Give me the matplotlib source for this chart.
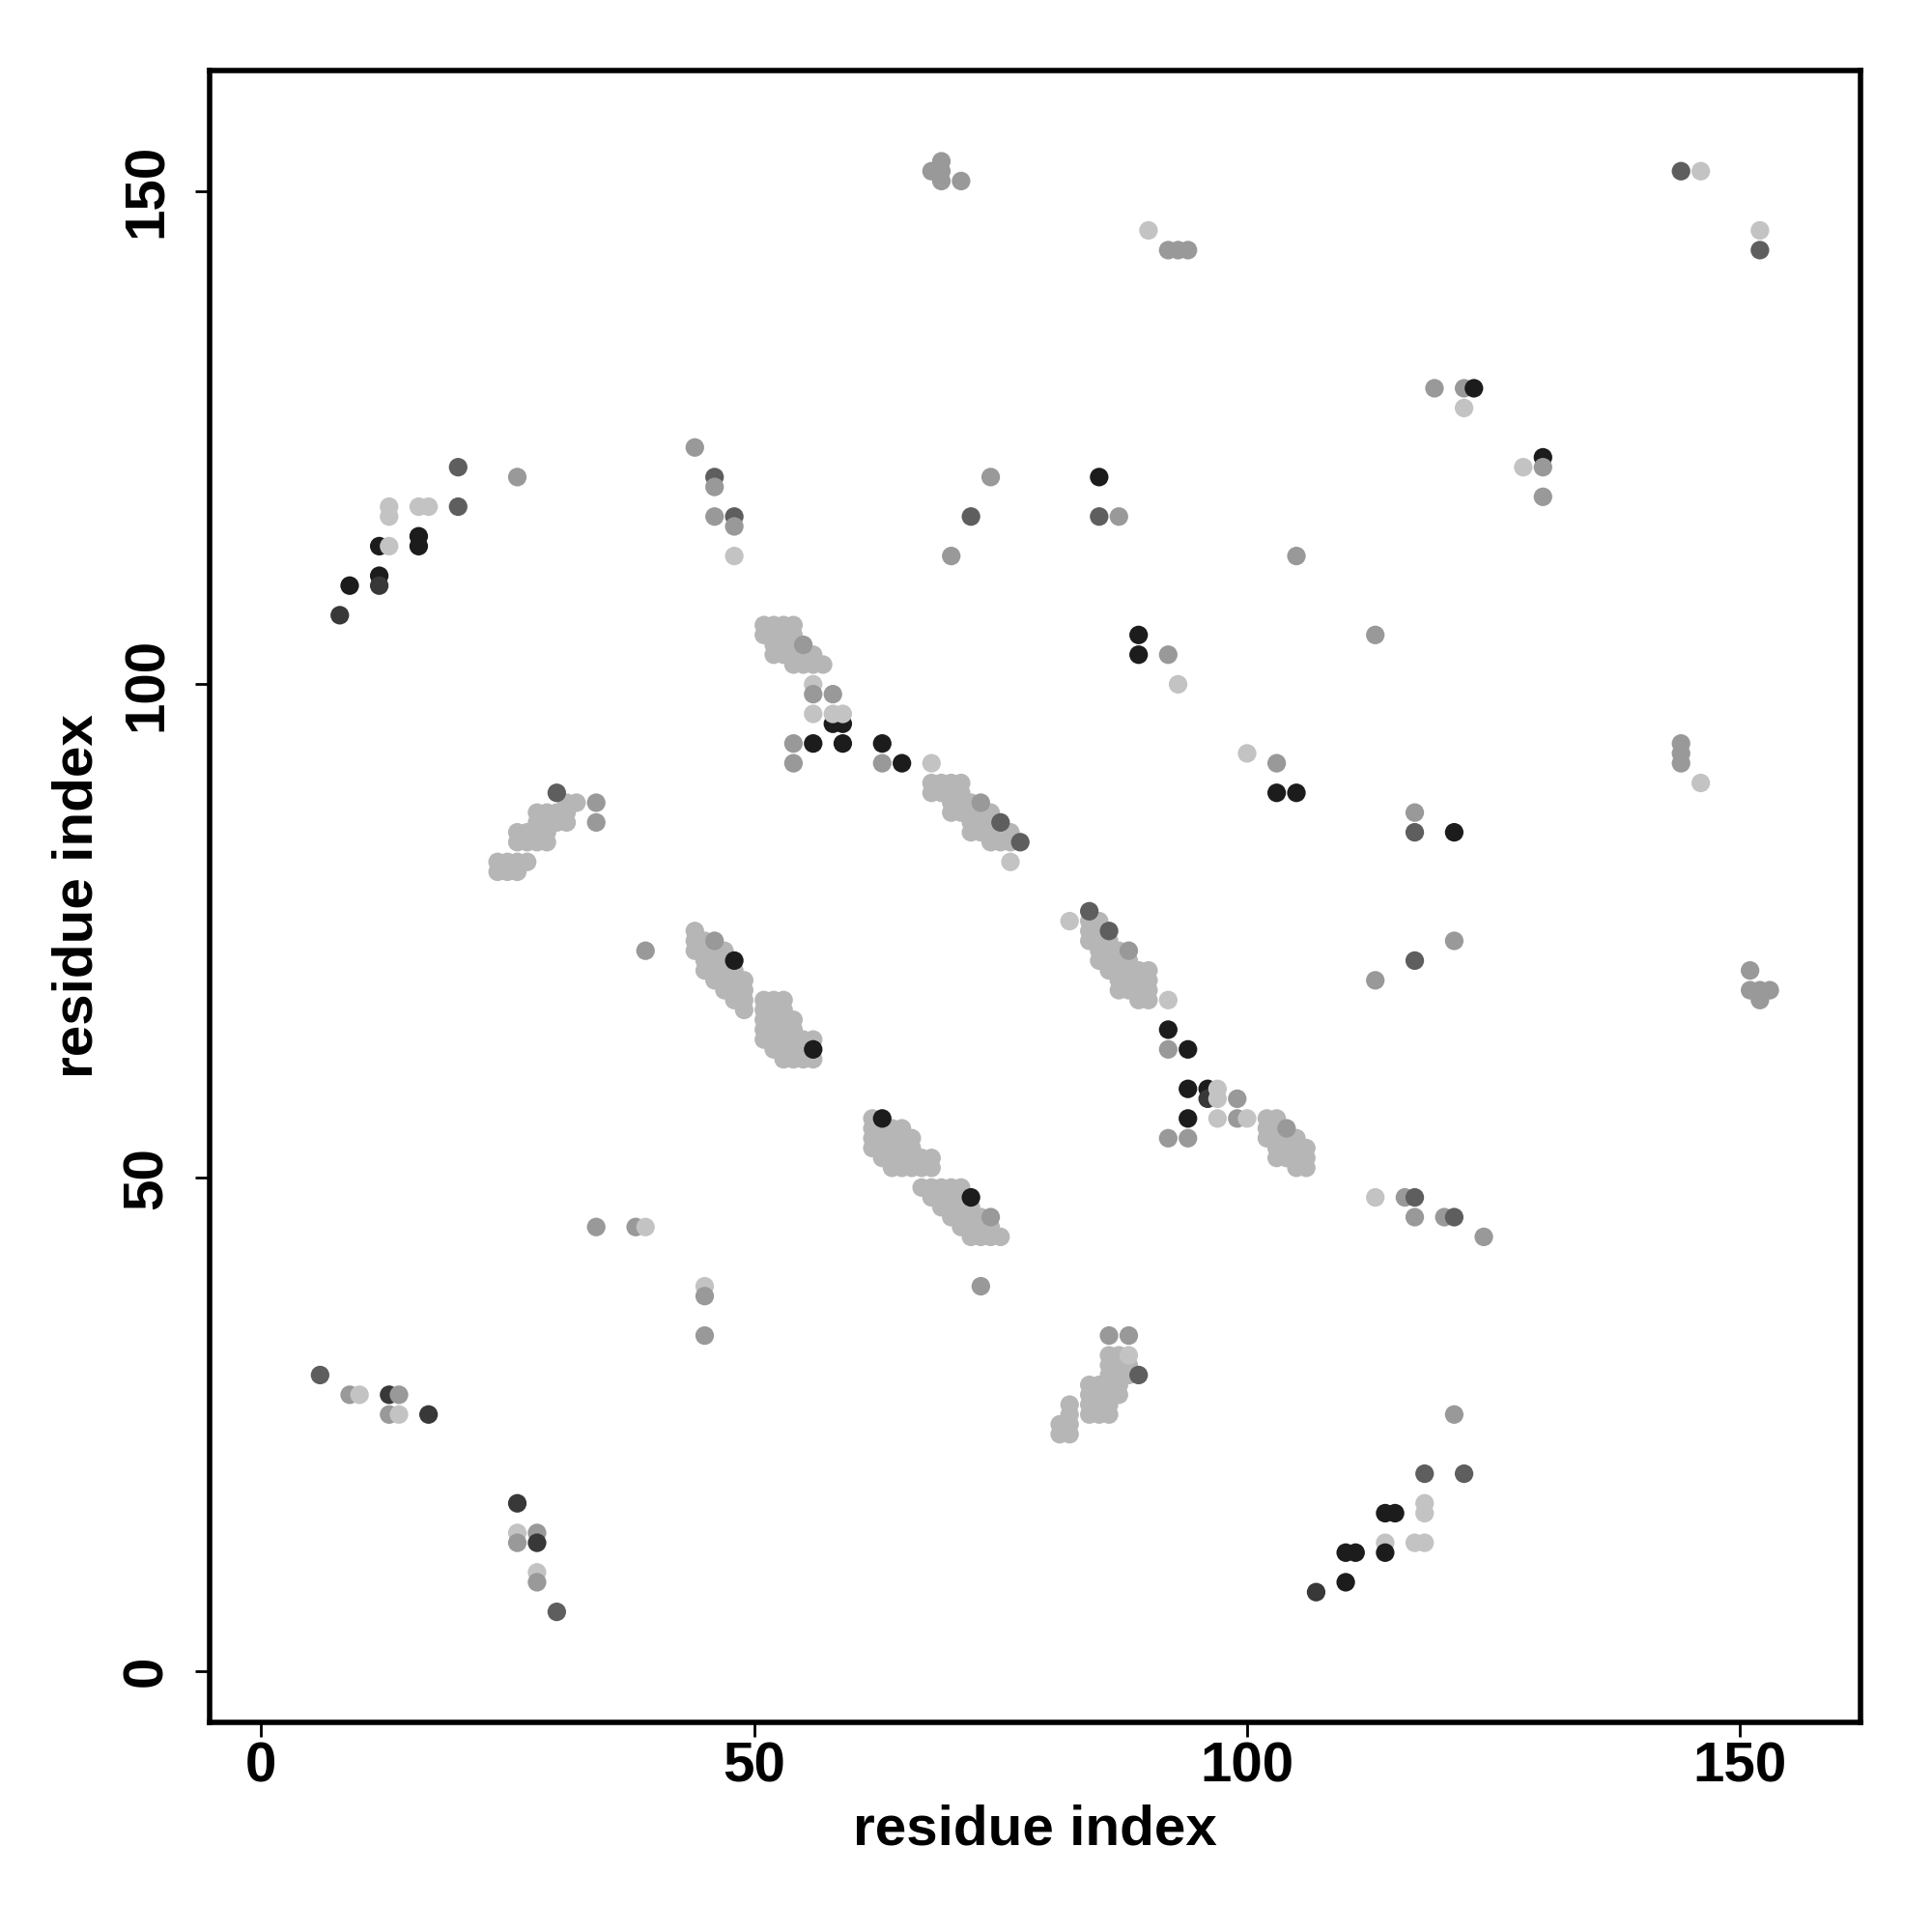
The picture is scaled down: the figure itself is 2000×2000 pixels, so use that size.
import matplotlib
matplotlib.use("Agg")
import matplotlib.pyplot as plt

plt.rcParams["font.family"] = ["Liberation Sans", "DejaVu Sans"]
plt.rcParams["font.weight"] = "bold"

# dense contact bands (light grey): one entry per row, y value + x values in that row
band_row_y = [
    88, 87, 86, 85, 84, 82, 81,                              # near (28, 85)
    106, 105, 104, 103, 102,                                 # near (54, 104)
    90, 89, 88, 87, 86, 85, 84,                              # near (72, 87)
    75, 74, 73, 72, 71, 70, 69, 68, 67, 66, 65, 64, 63, 62,  # near (50, 68)
    56, 55, 54, 53, 52, 51, 49, 48, 47, 46, 45, 44,          # near (68, 50)
    76, 75, 74, 73, 72, 71, 70, 69, 68,                      # near (87, 72)
    56, 55, 54, 53, 52, 51,                                  # near (104, 54)
    32, 31, 30, 29, 28, 27, 26, 25, 24,                      # near (85, 28)
]
band_row_x = [
    [31, 32], [28, 29, 30, 31], [28, 29, 30, 31], [26, 27, 28, 29],
    [26, 27, 28, 29], [24, 25, 26, 27], [24, 25, 26],
    [51, 52, 53, 54], [51, 52, 53, 54], [52, 53, 54], [52, 53, 54, 55, 56],
    [54, 55, 56, 57],
    [68, 69, 70, 71], [68, 69, 70, 71], [70, 71, 72], [70, 71, 72, 73, 74],
    [72, 73, 74], [72, 73, 74, 75, 76], [74, 75, 76],
    [44], [44, 45], [44, 45, 46, 47], [45, 46, 47], [45, 46, 47, 48],
    [46, 47, 48, 49], [47, 48, 49], [48, 49, 51, 52, 53], [49, 51, 52, 53],
    [51, 52, 53, 54], [51, 52, 53, 54], [51, 52, 53, 54, 55, 56],
    [52, 53, 54, 55], [53, 54, 55, 56],
    [62], [62, 63, 64, 65], [62, 63, 64, 65, 66], [62, 63, 64, 65, 66],
    [63, 64, 65, 66, 67, 68], [64, 65, 66, 67, 68], [67, 68, 69, 70, 71],
    [68, 69, 70, 71], [69, 70, 71, 72], [70, 71, 72, 73], [71, 72, 73, 74],
    [72, 73, 74, 75],
    [84, 85], [84, 85], [84, 85, 86], [85, 86, 87], [85, 86, 87, 88],
    [86, 87, 88, 89, 90], [87, 88, 89, 90], [87, 88, 89, 90], [89, 90],
    [102, 103], [102, 103], [102, 103, 104, 105], [103, 104, 105, 106],
    [103, 104, 105, 106], [105, 106],
    [86, 87], [86, 87, 88], [86, 87, 88], [84, 85, 86, 87], [84, 85, 86, 87],
    [82, 84, 85, 86], [82, 84, 85, 86], [81, 82], [81, 82],
]

# single contacts: x, y and grey level (1 = darkest, 5 = lightest)
spot_x = [8, 9, 12, 12, 12, 13, 16, 16, 13, 13, 16, 17, 20, 20, 26,
          44, 46, 46, 46, 48, 48, 48,
          68, 69, 69, 69, 71, 74, 72, 70, 85, 85, 87,
          90, 92, 93, 94, 105,
          119, 122, 123, 122, 128, 130, 130, 130,
          144, 146, 152, 152,
          89, 89, 92, 93, 113,
          100, 103, 103, 105, 117, 117, 121,
          144, 144, 144, 146, 121, 117, 113,
          151, 151, 152, 153, 152,
          30, 34, 34, 39,
          55, 56, 56, 58, 58, 59, 56, 58, 59,
          54, 56, 59, 54, 63, 63, 65, 68,
          73, 75, 77, 76,
          46, 48, 56,
          63, 72, 74,
          73, 45, 45, 45, 34, 38, 39,
          6, 9, 10, 13, 14, 13, 14, 17,
          26, 26, 26, 28, 28, 28, 28, 30,
          84, 82, 86, 88,
          92, 92, 92, 94,
          94, 96, 96, 97, 97, 99,
          94, 97, 99, 100, 92, 94,
          104,
          113, 116, 117, 117, 120, 121, 124,
          86, 88, 88, 89,
          121, 118, 122, 118, 118, 114, 115, 114, 114, 117, 118,
          110, 111, 110, 107]
spot_y = [107, 110, 111, 110, 114, 114, 115, 114, 118, 117, 118, 118, 122, 118, 121,
          124, 121, 120, 117, 117, 116, 113,
          152, 153, 151, 152, 151, 121, 117, 113, 121, 117, 117,
          146, 144, 144, 144, 113,
          130, 130, 130, 128, 122, 123, 122, 119,
          152, 152, 146, 144,
          105, 103, 103, 100, 105,
          93, 92, 89, 89, 87, 85, 85,
          94, 93, 92, 90, 74, 72, 70,
          71, 69, 69, 69, 68,
          89, 88, 86, 73,
          104, 100, 99, 99, 96, 96, 97, 97, 97,
          94, 94, 94, 92, 94, 92, 92, 92,
          88, 86, 84, 82,
          74, 72, 63,
          56, 48, 46,
          39, 39, 38, 34, 45, 45, 45,
          30, 28, 28, 28, 28, 26, 26, 26,
          17, 14, 13, 14, 13, 10, 9, 6,
          77, 76, 75, 73,
          68, 65, 63, 63,
          59, 59, 58, 59, 58, 58,
          56, 56, 56, 56, 54, 54,
          55,
          48, 48, 48, 46, 46, 46, 44,
          34, 34, 32, 30,
          26, 20, 20, 17, 16, 16, 16, 13, 12, 13, 13,
          12, 12, 9, 8]
spot_shade = [2, 1, 1, 2, 1, 5, 1, 1, 5, 5, 5, 5, 3, 3, 4,
              4, 3, 4, 4, 3, 4, 5,
              4, 4, 4, 4, 4, 4, 3, 4, 1, 3, 4,
              5, 4, 4, 4, 4,
              4, 4, 1, 5, 5, 1, 4, 4,
              3, 5, 5, 3,
              1, 1, 4, 5, 4,
              5, 4, 1, 1, 4, 3, 1,
              4, 4, 4, 5, 4, 3, 4,
              4, 4, 4, 4, 4,
              3, 4, 4, 4,
              4, 5, 4, 4, 1, 1, 5, 5, 5,
              4, 1, 1, 4, 1, 4, 1, 5,
              4, 3, 3, 5,
              4, 1, 1,
              1, 1, 4,
              4, 5, 4, 4, 4, 4, 5,
              3, 4, 5, 2, 4, 4, 5, 2,
              2, 5, 4, 4, 2, 5, 4, 3,
              3, 5, 3, 4,
              5, 1, 4, 1,
              1, 1, 2, 5, 5, 4,
              1, 5, 4, 5, 4, 4,
              4,
              5, 4, 3, 4, 4, 3, 4,
              4, 4, 5, 3,
              4, 3, 3, 5, 5, 1, 1, 5, 1, 5, 5,
              1, 1, 1, 2]

shade_colours = {1: "#1c1c1c", 2: "#383838", 3: "#5e5e5e", 4: "#999999", 5: "#c3c3c3"}
band_colour = "#b6b6b6"

xs, ys, cols = [], [], []
for y, row in zip(band_row_y, band_row_x):
    for x in row:
        xs.append(x)
        ys.append(y)
        cols.append(band_colour)
for x, y, s in zip(spot_x, spot_y, spot_shade):
    xs.append(x)
    ys.append(y)
    cols.append(shade_colours[s])

fig = plt.figure(figsize=(10, 10), dpi=200)
ax = fig.add_axes([0.1085, 0.1085, 0.8545, 0.855])
ax.scatter(xs, ys, s=48, c=cols, linewidths=0, zorder=2)

ax.set_xlim(-5.2, 162.2)
ax.set_ylim(-5.2, 162.2)
ax.set_xticks([0, 50, 100, 150])
ax.set_yticks([0, 50, 100, 150])
for sp in ax.spines.values():
    sp.set_linewidth(2.0)
ax.tick_params(direction="out", length=5.5, width=1.0, labelsize=21)
ax.tick_params(axis="x", pad=1.5)
ax.tick_params(axis="y", pad=8)
for lab in ax.get_yticklabels():
    lab.set_rotation(90)
    lab.set_va("center")
ax.set_xlabel("residue index", fontsize=21, fontweight="bold", labelpad=4)
ax.set_ylabel("residue index", fontsize=21, fontweight="bold", labelpad=6.5)

fig.savefig("out.png", dpi=200)
